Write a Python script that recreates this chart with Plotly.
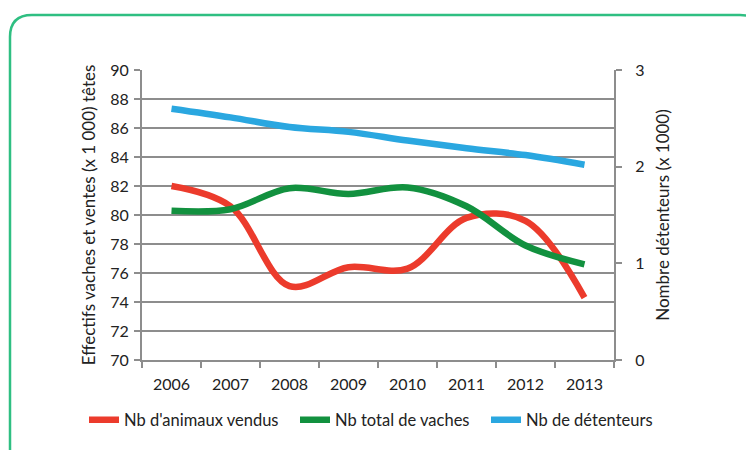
import plotly.graph_objects as go

years = ["2006", "2007", "2008", "2009", "2010", "2011", "2012", "2013"]
animaux_vendus = [82.0, 80.6, 75.1, 76.4, 76.3, 79.8, 79.6, 74.3]
total_vaches = [80.3, 80.4, 81.85, 81.45, 81.9, 80.6, 77.9, 76.6]
detenteurs = [2.60, 2.51, 2.41, 2.36, 2.27, 2.19, 2.12, 2.02]

W, H = 754, 450
OFF = 8  # page body margin
L, T = 142 - OFF, 70 - OFF
pw, ph = 472, 290
R, B = W - L - pw, H - T - ph

def px(x):
    return (x - OFF - L) / pw

def py(y):
    return (T + ph - (y - OFF)) / ph

FONT = "Lato, 'Open Sans', sans-serif"
GRID = "#8d8d8d"

fig = go.Figure()
fig.add_trace(go.Scatter(x=years, y=animaux_vendus, name="Nb d'animaux vendus", mode="lines",
                         legend="legend",
                         line=dict(color="#ec3b2c", width=6.5, shape="spline", smoothing=1.0)))
fig.add_trace(go.Scatter(x=years, y=total_vaches, name="Nb total de vaches", mode="lines",
                         legend="legend2",
                         line=dict(color="#12913f", width=6.5, shape="spline", smoothing=1.0)))
fig.add_trace(go.Scatter(x=years, y=detenteurs, name="Nb de détenteurs", mode="lines", yaxis="y2",
                         legend="legend3",
                         line=dict(color="#2aa7e0", width=6.5, shape="spline", smoothing=1.0)))

# rounded green frame
r = 22
x0, y0, x1, y1 = 10, 15, 762, 480
path = (f"M {px(x0)},{py(y0 + r)} "
        f"Q {px(x0)},{py(y0)} {px(x0 + r)},{py(y0)} "
        f"L {px(x1 - r)},{py(y0)} "
        f"Q {px(x1)},{py(y0)} {px(x1)},{py(y0 + r)} "
        f"L {px(x1)},{py(y1)} L {px(x0)},{py(y1)} Z")
fig.add_shape(type="path", path=path, xref="paper", yref="paper",
              line=dict(color="#2fbf82", width=2.5), fillcolor="rgba(0,0,0,0)", layer="below")

def leg(x):
    return dict(orientation="h", x=px(x), y=py(420), xanchor="left", yanchor="middle",
                font=dict(size=16.5, color="#222"), itemwidth=30, bgcolor="rgba(0,0,0,0)")

fig.update_layout(
    width=W, height=H,
    margin=dict(l=L, r=R, t=T, b=B),
    paper_bgcolor="white", plot_bgcolor="white",
    font=dict(family=FONT, size=16, color="#222"),
    showlegend=True,
    legend=leg(84), legend2=leg(295), legend3=leg(486),
    xaxis=dict(type="category", showgrid=False, showline=True, linecolor=GRID, linewidth=2,
               ticks="outside", tickson="boundaries", ticklen=6, tickcolor=GRID, tickwidth=2,
               tickfont=dict(size=16), ticklabelstandoff=9, range=[-0.5, 7.5], fixedrange=True),
    yaxis=dict(range=[70, 90], dtick=2, tick0=70, showgrid=True, gridcolor=GRID, gridwidth=2,
               showline=True, linecolor=GRID, linewidth=2, ticks="outside", ticklen=6,
               tickcolor=GRID, tickwidth=2, zeroline=False, tickfont=dict(size=16),
               ticklabelstandoff=2,
               title=dict(text="Effectifs vaches et ventes (x 1 000) têtes", font=dict(size=17),
                          standoff=10)),
    yaxis2=dict(range=[0, 3], dtick=1, overlaying="y", side="right", showgrid=False,
                showline=True, linecolor=GRID, linewidth=2, ticks="outside", ticklen=6,
                tickcolor=GRID, tickwidth=2, zeroline=False, tickfont=dict(size=16),
                ticklabelstandoff=10,
                title=dict(text="Nombre détenteurs (x 1000)", font=dict(size=17), standoff=14)),
)

fig.write_html("out.html")
